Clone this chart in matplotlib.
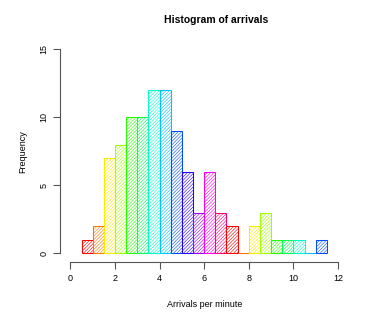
import matplotlib
matplotlib.use("Agg")
import matplotlib.pyplot as plt
import colorsys
import numpy as np

plt.rcParams['font.family'] = ['Liberation Sans', 'DejaVu Sans']
plt.rcParams['hatch.linewidth'] = 0.4

# Data
bin_edges = [0.5, 1.0, 1.5, 2.0, 2.5, 3.0, 3.5, 4.0, 4.5, 5.0, 5.5, 6.0, 6.5,
             7.0, 7.5, 8.0, 8.5, 9.0, 9.5, 10.0, 10.5, 11.0, 11.5]
counts = [1, 2, 7, 8, 10, 10, 12, 12, 9, 6, 3, 6, 3, 2, 0, 2, 3, 1, 1, 1, 0, 1]
x_ticks = [0, 2, 4, 6, 8, 10, 12]
y_ticks = [0, 5, 10, 15]

n_col = 13
palette = [colorsys.hsv_to_rgb(i / n_col, 1, 1) for i in range(n_col)]

fig = plt.figure(figsize=(3.81, 3.15), dpi=100)
ax = fig.add_axes([0.1567, 0.1698, 0.9152 - 0.1567, 0.8695 - 0.1698])

lefts = bin_edges[:-1]
widths = np.diff(bin_edges)
for i, (l, w, c) in enumerate(zip(lefts, widths, counts)):
    col = palette[i % n_col]
    ax.bar(l, c, width=w, align='edge', facecolor='none', edgecolor=col,
           hatch='//////////', linewidth=0.75)

ax.set_xlim(-0.48, 12.48)
ax.set_ylim(-0.6, 15.6)
for s in ['top', 'right']:
    ax.spines[s].set_visible(False)
ax.spines['bottom'].set_bounds(0, 12)
ax.spines['left'].set_bounds(0, 15)
for s in ['bottom', 'left']:
    ax.spines[s].set_color('#555555')
    ax.spines[s].set_linewidth(0.8)
ax.set_xticks(x_ticks)
ax.set_yticks(y_ticks)
ax.tick_params(axis='both', length=5, width=0.8, color='#555555', labelsize=6.5)
ax.tick_params(axis='x', pad=4)
ax.tick_params(axis='y', pad=3)
for lab in ax.get_yticklabels():
    lab.set_rotation(90)
    lab.set_va('center')

ax.set_xlabel('Arrivals per minute', fontsize=6.5, labelpad=12)
ax.set_ylabel('Frequency', fontsize=6.5, labelpad=9)
fig.text(0.566, 0.935, 'Histogram of arrivals', fontsize=7.5, fontweight='bold',
         ha='center', va='center')

fig.savefig('out.png', dpi=100)
